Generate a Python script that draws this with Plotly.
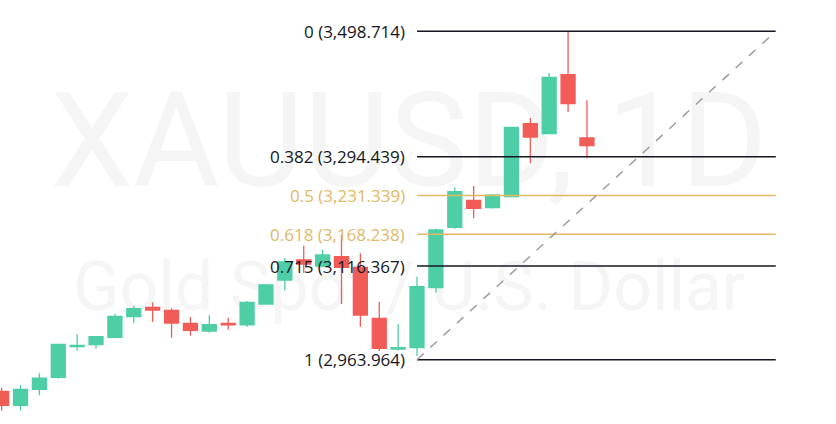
import plotly.graph_objects as go

# ---- data ----
bar_index = list(range(32))
opens  = [2912.5, 2889.7, 2915.7, 2935.3, 2985.4, 2988.4, 3000.4, 3034.0, 3049.0, 3044.4,
          3023.2, 3010.7, 3022.9, 3020.5, 3054.6, 3093.7, 3126.3, 3116.5, 3131.7, 3114.4,
          3031.4, 2981.4, 2983.5, 3081.2, 3179.5, 3223.5, 3211.5, 3229.4, 3348.3, 3332.0,
          3428.0, 3325.0]
highs  = [2918.4, 2922.7, 2941.8, 2989.5, 3005.3, 3003.0, 3038.9, 3051.4, 3057.4, 3047.6,
          3033.5, 3036.7, 3032.3, 3059.5, 3087.2, 3129.6, 3149.6, 3143.4, 3167.0, 3137.2,
          3058.4, 3022.1, 3099.1, 3177.3, 3244.7, 3246.8, 3233.3, 3343.2, 3357.5, 3430.8,
          3498.714, 3386.4]
lows   = [2880.9, 2880.9, 2906.0, 2933.3, 2978.6, 2981.9, 2999.6, 3023.2, 3025.3, 2999.8,
          3003.0, 3007.9, 3012.8, 3017.7, 3053.8, 3076.3, 3105.1, 3114.9, 3054.6, 3017.7,
          2978.1, 2978.9, 2970.0, 3073.1, 3177.3, 3194.2, 3209.8, 3229.0, 3283.8, 3331.6,
          3367.3, 3291.9]
closes = [2889.7, 2915.7, 2934.1, 2989.0, 2987.1, 3001.4, 3034.6, 3047.0, 3044.9, 3023.7,
          3011.8, 3020.9, 3020.5, 3057.4, 3085.6, 3123.0, 3119.8, 3134.4, 3114.4, 3036.7,
          2982.5, 2983.5, 3082.8, 3175.2, 3237.5, 3210.5, 3231.7, 3342.4, 3326.6, 3423.8,
          3380.8, 3312.4]

fib_ratios = ["0", "0.382", "0.5", "0.618", "0.715", "1"]
fib_prices = [3498.714, 3294.439, 3231.339, 3168.238, 3116.367, 2963.964]
fib_colors = ["#131722", "#131722", "#e2b865", "#e2b865", "#131722", "#131722"]
fib_start_bar = 22
fib_end_bar = 41

title_main = "XAUUSD, 1D"
title_sub = "Gold Spot / U.S. Dollar"

UP = "#4ecea6"
DOWN = "#f25c57"

fig = go.Figure()

# watermark on the base axes (drawn beneath the overlaying price axes)
fig.add_trace(go.Scatter(
    x=[0.4893, 0.4893], y=[0.6384, 0.3096], mode="text",
    text=[title_main, title_sub],
    textfont=dict(family="Roboto", size=[132, 68], color="#f5f5f5"),
    textposition="middle center", hoverinfo="skip", showlegend=False,
    xaxis="x", yaxis="y",
))

fig.add_trace(go.Candlestick(
    x=bar_index, open=opens, high=highs, low=lows, close=closes,
    increasing=dict(line=dict(color=UP, width=1.3), fillcolor=UP),
    decreasing=dict(line=dict(color=DOWN, width=1.3), fillcolor=DOWN),
    whiskerwidth=0, showlegend=False, xaxis="x2", yaxis="y2",
))

shapes = []
annotations = []
for r, price, col in zip(fib_ratios, fib_prices, fib_colors):
    shapes.append(dict(type="line", xref="x2", yref="y2",
                       x0=fib_start_bar, x1=fib_end_bar, y0=price, y1=price,
                       line=dict(color=col, width=1.5)))
    label = f"{r} ({price:,.3f})"
    annotations.append(dict(x=fib_start_bar, y=price, xref="x2", yref="y2",
                            text=label, showarrow=False, xanchor="right",
                            yanchor="middle", xshift=-10,
                            font=dict(family="Open Sans", size=17, color=col)))

shapes.append(dict(type="line", xref="x2", yref="y2",
                   x0=fib_start_bar, x1=fib_end_bar, y0=fib_prices[-1], y1=fib_prices[0],
                   line=dict(color="#9e9e9e", width=1.5, dash="dash")))

fig.update_layout(
    width=836, height=424,
    margin=dict(l=0, r=0, t=0, b=0),
    paper_bgcolor="white", plot_bgcolor="white",
    shapes=shapes, annotations=annotations,
    showlegend=False,
    boxgap=0.0, boxgroupgap=0.26,
    xaxis=dict(range=[0, 1], visible=False, fixedrange=True),
    yaxis=dict(range=[0, 1], visible=False, fixedrange=True),
    xaxis2=dict(range=[-0.086, 44.19], visible=False, rangeslider=dict(visible=False),
                fixedrange=True, overlaying="x"),
    yaxis2=dict(range=[2859.24, 3549.68], visible=False, fixedrange=True, overlaying="y"),
)

fig.write_html("out.html", config={"displayModeBar": False},
               post_script="document.body.style.margin='0';document.body.style.padding='0';")
